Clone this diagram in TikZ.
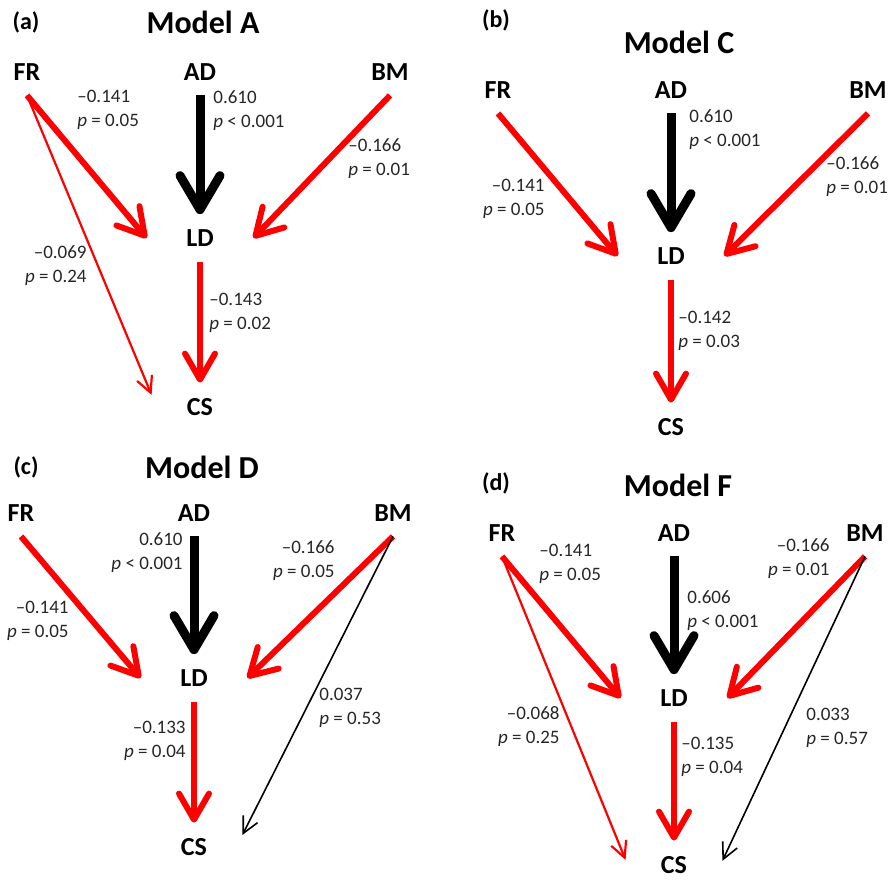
\documentclass[tikz,border=0pt]{standalone}
\usepackage{fontspec}
\setmainfont{Carlito}
\usetikzlibrary{arrows.meta}

\tikzset{
  varnode/.style={font=\fontsize{13}{13}\selectfont\bfseries, inner sep=0pt, minimum height=23pt},
  ldnode/.style={varnode, minimum width=53pt, minimum height=23.5pt},
  csnode/.style={varnode, minimum width=48pt, minimum height=24pt},
  coef/.style={font=\fontsize{9.5}{12}\selectfont, text=black!85, inner sep=0pt},
  coefl/.style={coef, anchor=west, align=left},
  coefr/.style={coef, anchor=east, align=right},
  tag/.style={font=\fontsize{12}{12}\selectfont\bfseries, inner sep=0pt},
  title/.style={font=\fontsize{16}{16}\selectfont\bfseries, inner sep=0pt},
  strong/.style={black, line width=4.5pt, -{Straight Barb[length=17pt, width=20pt, round]}},
  negpath/.style={red, line width=3pt, -{Straight Barb[length=13pt, width=15pt, round]}},
  weakneg/.style={red, line width=1.1pt, -{Straight Barb[length=8pt, width=8pt]}},
  weakpos/.style={black, line width=0.8pt, -{Straight Barb[length=8pt, width=8pt]}}
}
\newcommand{\pv}{\textit{p}}

\begin{document}
\begin{tikzpicture}[x=0.5pt, y=-0.5pt]
\useasboundingbox (0,0) rectangle (892,880);

\foreach \tg/\tx/\ty/\ttl/\mx/\my in {a/26/22/A/203/22, b/496/20/C/679/42, c/26/467/D/202/467, d/496/483/F/678/485}{
  \node[tag] (tag\tg) at (\tx,\ty) {(\tg)};
  \node[title] (title\tg) at (\mx,\my) {Model \ttl};
}

% (a) Model A
\node[varnode] (FRa) at (27,72) {FR};
\node[varnode] (ADa) at (200,72) {AD};
\node[varnode] (BMa) at (390,72) {BM};
\node[ldnode] (LDa) at (200,238) {LD};
\node[csnode] (CSa) at (200,407) {CS};
\node[coefl] (ka1) at (77,110) {--0.141\\\pv{} = 0.05};
\node[coefl] (ka2) at (213,111) {0.610\\\pv{} < 0.001};
\node[coefl] (ka3) at (348,159) {--0.166\\\pv{} = 0.01};
\node[coefr] (ka4) at (87,266) {--0.069\\\pv{} = 0.24};
\node[coefl] (ka5) at (209,313) {--0.143\\\pv{} = 0.02};
\draw[negpath] (FRa.south) -- (LDa.west);
\draw[weakneg] (FRa.south) -- (CSa.166);
\draw[strong] (ADa.south) -- (LDa.north);
\draw[negpath] (BMa.south) -- (LDa.east);
\draw[negpath] (LDa.south) -- (CSa.north);

% (b) Model C
\node[varnode] (FRb) at (498,90) {FR};
\node[varnode] (ADb) at (671,90) {AD};
\node[varnode] (BMb) at (868,90) {BM};
\node[ldnode] (LDb) at (671,256) {LD};
\node[csnode] (CSb) at (671,427) {CS};
\node[coefr] (kb1) at (545,199) {--0.141\\\pv{} = 0.05};
\node[coefl] (kb2) at (689,130) {0.610\\\pv{} < 0.001};
\node[coefl] (kb3) at (826,177) {--0.166\\\pv{} = 0.01};
\node[coefl] (kb4) at (678,331) {--0.142\\\pv{} = 0.03};
\draw[negpath] (FRb.south) -- (LDb.west);
\draw[strong] (ADb.south) -- (LDb.north);
\draw[negpath] (BMb.south) -- (LDb.east);
\draw[negpath] (LDb.south) -- (CSb.north);

% (c) Model D
\node[varnode] (FRc) at (21,513) {FR};
\node[varnode] (ADc) at (194,513) {AD};
\node[varnode] (BMc) at (393,513) {BM};
\node[ldnode] (LDc) at (194,678) {LD};
\node[csnode] (CSc) at (194,847) {CS};
\node[coefr] (kc1) at (183,553) {0.610\\\pv{} < 0.001};
\node[coefr] (kc2) at (335,561) {--0.166\\\pv{} = 0.05};
\node[coefr] (kc3) at (69,621) {--0.141\\\pv{} = 0.05};
\node[coefl] (kc4) at (319,708) {0.037\\\pv{} = 0.53};
\node[coefr] (kc5) at (186,741) {--0.133\\\pv{} = 0.04};
\draw[negpath] (FRc.south) -- (LDc.west);
\draw[strong] (ADc.south) -- (LDc.north);
\draw[negpath] (BMc.south) -- (LDc.east);
\draw[weakpos] (BMc.south) -- (CSc.14);
\draw[negpath] (LDc.south) -- (CSc.north);

% (d) Model F
\node[varnode] (FRd) at (502,533) {FR};
\node[varnode] (ADd) at (674,533) {AD};
\node[varnode] (BMd) at (865,533) {BM};
\node[ldnode] (LDd) at (674,698) {LD};
\node[csnode] (CSd) at (674,865) {CS};
\node[coefl] (kd1) at (539,564) {--0.141\\\pv{} = 0.05};
\node[coefr] (kd2) at (830,559) {--0.166\\\pv{} = 0.01};
\node[coefl] (kd3) at (687,611) {0.606\\\pv{} < 0.001};
\node[coefr] (kd4) at (560,727) {--0.068\\\pv{} = 0.25};
\node[coefl] (kd5) at (681,757) {--0.135\\\pv{} = 0.04};
\node[coefl] (kd6) at (806,728) {0.033\\\pv{} = 0.57};
\draw[negpath] (FRd.south) -- (LDd.west);
\draw[weakneg] (FRd.south) -- (CSd.174);
\draw[strong] (ADd.south) -- (LDd.north);
\draw[negpath] (BMd.south) -- (LDd.east);
\draw[weakpos] (BMd.south) -- (CSd.5);
\draw[negpath] (LDd.south) -- (CSd.north);
\end{tikzpicture}
\end{document}
